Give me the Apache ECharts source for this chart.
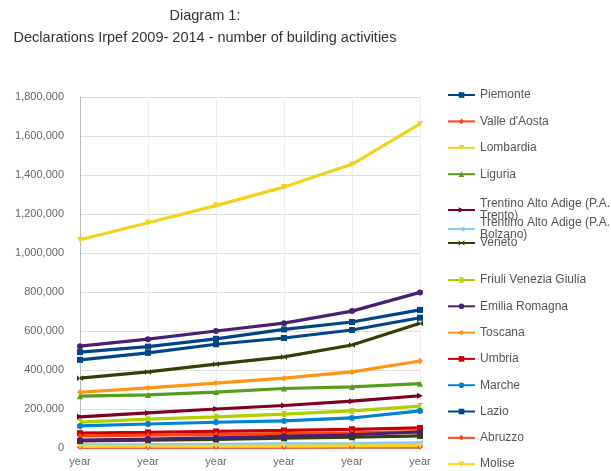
<!DOCTYPE html>
<html>
<head>
<meta charset="utf-8">
<script src="https://cdn.jsdelivr.net/npm/echarts@6/dist/echarts.min.js"></script>
<style>
html,body{margin:0;padding:0;background:#fff;}
#chart{width:611px;height:471px;}
</style>
</head>
<body>
<div id="chart"></div>
<script>
// ---- data ----
var categories = ['2009', '2010', '2011', '2012', '2013', '2014'];
var xTickLabels = ['year', 'year', 'year', 'year', 'year', 'year'];
var yTickValues = [0, 200000, 400000, 600000, 800000, 1000000, 1200000, 1400000, 1600000, 1800000];

var piemonte      = [452000, 488000, 532000, 564000, 605000, 668000];
var valleAosta    = [4000, 4000, 5000, 5000, 6000, 6000];
var lombardia     = [1068000, 1155000, 1243000, 1338000, 1455000, 1662000];
var liguria       = [266000, 272000, 287000, 305000, 313000, 330000];
var trentoPA      = [160000, 180000, 200000, 218000, 240000, 268000];
var bolzanoPA     = [16000, 17000, 19000, 21000, 23000, 26000];
var veneto        = [358000, 390000, 430000, 467000, 528000, 640000];
var friuli        = [133000, 148000, 160000, 174000, 190000, 215000];
var emilia        = [522000, 558000, 600000, 640000, 702000, 798000];
var toscana       = [286000, 308000, 333000, 358000, 390000, 446000];
var umbria        = [76000, 80000, 85000, 90000, 96000, 103000];
var marche        = [113000, 123000, 132000, 139000, 154000, 190000];
var lazio         = [492000, 520000, 560000, 608000, 646000, 708000];
var abruzzo       = [62000, 66000, 70000, 74000, 78000, 84000];
var molise        = [8000, 9000, 9000, 10000, 11000, 12000];
var calabria      = [36000, 40000, 44000, 50000, 55000, 62000];
var sardegna      = [40000, 46000, 52000, 60000, 68000, 82000];

var seriesNames = ['Piemonte', "Valle d'Aosta", 'Lombardia', 'Liguria',
  'Trentino Alto Adige (P.A.\nTrento)', 'Trentino Alto Adige (P.A.\nBolzano)',
  'Veneto', 'Friuli Venezia Giulia', 'Emilia Romagna', 'Toscana', 'Umbria',
  'Marche', 'Lazio', 'Abruzzo', 'Molise', 'Calabria', 'Sardegna'];
var seriesValues = [piemonte, valleAosta, lombardia, liguria, trentoPA, bolzanoPA,
  veneto, friuli, emilia, toscana, umbria, marche, lazio, abruzzo, molise, calabria, sardegna];
var seriesColors = ['#004586', '#ff420e', '#f2d21c', '#579d1c', '#7e0021', '#83caff',
  '#314004', '#aecf00', '#4b1f6f', '#ff950e', '#c5000b', '#0084d1', '#004586',
  '#ff420e', '#ffd320', '#314004', '#4b1f6f'];
var seriesSymbols = ['rect', 'diamond', 'path://M0,0L10,0L5,10Z', 'triangle',
  'path://M0,0L10,5L0,10Z', 'path://M10,0L0,5L10,10Z', 'path://M0,0L10,10L10,0L0,10Z',
  'path://M0,0L10,0L0,10L10,10Z', 'circle', 'diamond', 'rect', 'circle', 'rect',
  'diamond', 'path://M0,0L10,0L5,10Z', 'rect', 'circle'];

// ---- chart ----
var chart = echarts.init(document.getElementById('chart'), null, {renderer: 'canvas'});

var series = seriesNames.map(function (name, i) {
  return {
    name: name,
    type: 'line',
    data: seriesValues[i],
    symbol: seriesSymbols[i],
    symbolSize: 6,
    showAllSymbol: true,
    lineStyle: {width: 3.2, color: seriesColors[i]},
    itemStyle: {color: seriesColors[i]},
    emphasis: {disabled: true},
    animation: false
  };
});

var FONT = 'Liberation Sans, Arial, sans-serif';
var legendText = {color: '#555', fontSize: 12, lineHeight: 12, fontFamily: FONT};
function mkLegend(names, top, gap) {
  return {
    orient: 'vertical', left: 447, top: top, padding: 0,
    itemWidth: 27, itemHeight: 7, itemGap: gap,
    textStyle: legendText,
    data: names,
    selectedMode: false
  };
}

var option = {
  backgroundColor: '#ffffff',
  animation: false,
  title: {
    text: 'Diagram 1:\nDeclarations Irpef 2009- 2014 - number of building activities',
    left: 200, top: 0, textAlign: 'center',
    textStyle: {fontSize: 14.5, fontWeight: 'normal', color: '#333', lineHeight: 22,
      fontFamily: FONT}
  },
  legend: [
    mkLegend(seriesNames.slice(0, 4), 89, 14.4),
    mkLegend([seriesNames[4]], 198, 0),
    mkLegend([seriesNames[5]], 217, 0),
    mkLegend([seriesNames[6]], 237, 0),
    mkLegend(seriesNames.slice(7, 15), 274, 14.3)
  ],
  grid: {left: 80, right: 191, top: 97, bottom: 23, containLabel: false, outerBoundsMode: 'none'},
  xAxis: {
    type: 'category',
    data: categories,
    boundaryGap: false,
    axisLine: {show: true, lineStyle: {color: '#bbb'}},
    axisTick: {show: false},
    splitLine: {show: true, lineStyle: {color: '#eee'}},
    axisLabel: {color: '#666', fontSize: 11, margin: 8, fontFamily: FONT,
      formatter: function (v, idx) { return xTickLabels[idx]; }}
  },
  yAxis: {
    type: 'value',
    min: yTickValues[0],
    max: yTickValues[yTickValues.length - 1],
    interval: yTickValues[1] - yTickValues[0],
    axisLine: {show: true, lineStyle: {color: '#bbb'}},
    axisTick: {show: false},
    splitLine: {show: true, lineStyle: {color: '#ddd'}},
    axisLabel: {color: '#666', fontSize: 11, margin: 16, fontFamily: FONT,
      formatter: function (v) { return v.toLocaleString('en-US'); }}
  },
  series: series
};
chart.setOption(option);
</script>
</body>
</html>
